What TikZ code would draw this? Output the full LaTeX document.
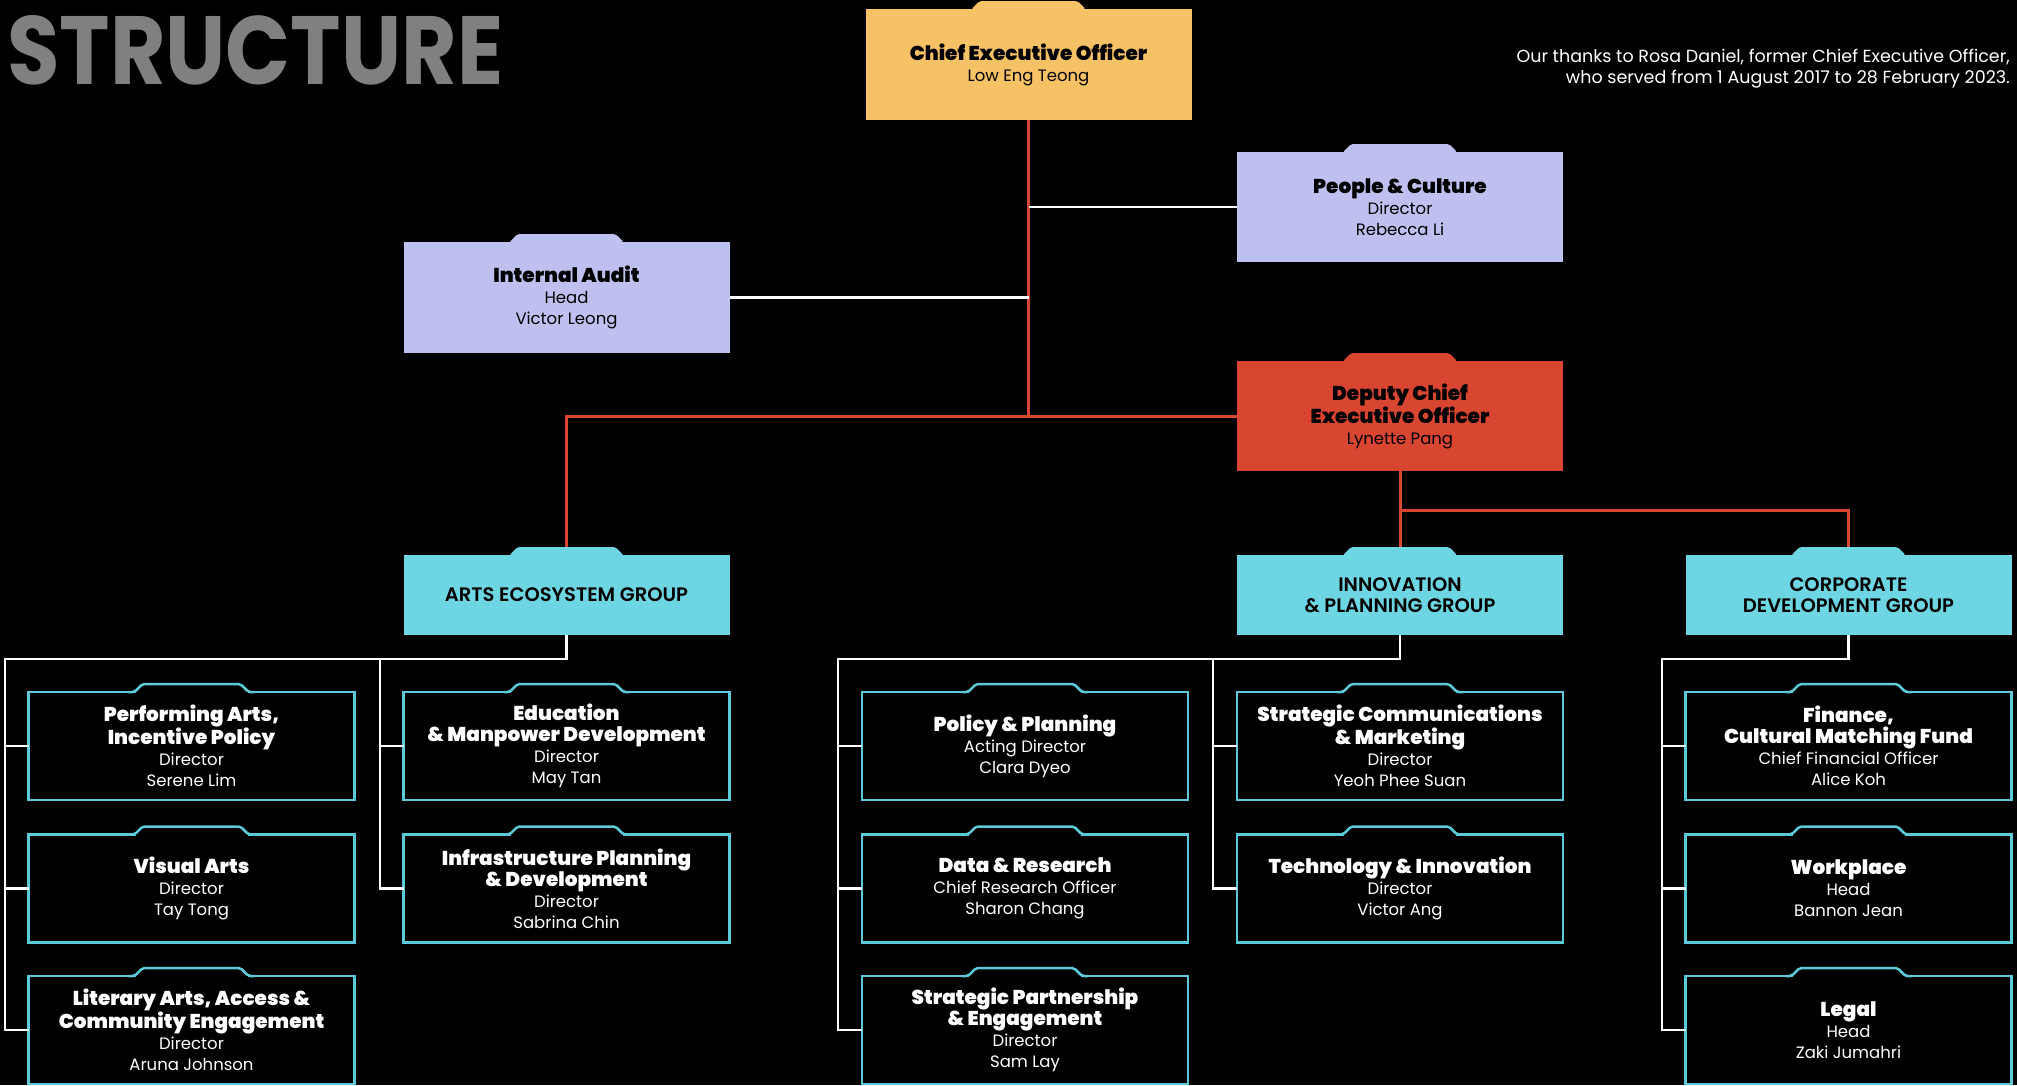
\documentclass[tikz,border=0pt]{standalone}
\usepackage{fontspec}
\setmainfont{Poppins}
\IfFontExistsTF{Poppins Black}{\newfontfamily\heavyfont{Poppins Black}}{\newcommand\heavyfont{\bfseries}}
\IfFontExistsTF{Poppins SemiBold}{\newfontfamily\semifont{Poppins SemiBold}}{\newcommand\semifont{\bfseries}}

\definecolor{ceoyellow}{HTML}{F7C165}
\definecolor{lavender}{HTML}{BEC1F0}
\definecolor{deputyred}{HTML}{D84530}
\definecolor{groupcyan}{HTML}{6DD6E2}
\definecolor{edgecyan}{HTML}{5CC9D9}
\definecolor{titlegray}{HTML}{808080}

\newcommand{\hv}{\heavyfont\fontsize{20}{21}\selectfont}
\newcommand{\rg}{\normalfont\fontsize{16.5}{21}\selectfont}

% folder tab on a filled box
\newcommand{\tabfill}[2]{%
  \fill[#1, rounded corners=2pt] ([xshift=106pt,yshift=-2pt]#2.north west) -- ([xshift=106pt]#2.north west)
    -- ([xshift=114pt,yshift=8pt]#2.north west) -- ([xshift=-114pt,yshift=8pt]#2.north east)
    -- ([xshift=-106pt]#2.north east) -- ([xshift=-106pt,yshift=-2pt]#2.north east) -- cycle;}
% folder tab on an outlined box
\newcommand{\tabline}[1]{%
  \fill[black] ([xshift=107pt,yshift=-1.3pt]#1.north west) rectangle ([xshift=-107pt,yshift=1.3pt]#1.north east);
  \draw[edgecyan, line width=2.5pt, rounded corners=2pt] ([xshift=100pt]#1.north west) -- ([xshift=106pt]#1.north west)
    -- ([xshift=114pt,yshift=8pt]#1.north west) -- ([xshift=-114pt,yshift=8pt]#1.north east)
    -- ([xshift=-106pt]#1.north east) -- ([xshift=-100pt]#1.north east);}

\tikzset{
  unit/.style={rectangle, minimum width=326pt, minimum height=110pt, inner sep=0pt, outer sep=0pt, align=center, font=\rg},
  filled/.style={unit, fill=#1, text=black},
  framed/.style={unit, minimum height=108pt, draw=edgecyan, line width=2.5pt, text=white},
  group/.style={unit, minimum height=80pt, fill=groupcyan, text=black, font=\semifont\fontsize{19.5}{21}\selectfont},
  redline/.style={draw=deputyred, line width=3pt},
  wire/.style={draw=white, line width=2.5pt},
}

\begin{document}
\begin{tikzpicture}[x=1pt, y=-1pt]
\useasboundingbox (0,0) rectangle (2017,1085);
\fill[black] (0,0) rectangle (2017,1085);

% Heading
\node[anchor=north west, inner sep=0pt, text=titlegray] (title) at (7,15)
  {\resizebox{496pt}{69pt}{\bfseries STRUCTURE}};
\node[anchor=north east, inner sep=0pt, align=right, text=white, font=\normalfont\fontsize{17.5}{21}\selectfont] (thanks) at (2010,49)
  {Our thanks to Rosa Daniel, former Chief Executive Officer,\\ who served from 1 August 2017 to 28 February 2023.};

% Top level
\node[filled=ceoyellow, minimum height=111pt] (ceo) at (1028.5,64.5) {\hv Chief Executive Officer\\ Low Eng Teong};
\node[filled=lavender] (pc) at (1400,207) {\hv People \& Culture\\ Director\\ Rebecca Li};
\node[filled=lavender, minimum height=111pt] (ia) at (566.5,297.5) {\hv Internal Audit\\ Head\\ Victor Leong};
\node[filled=deputyred] (dceo) at (1400,416) {\hv Deputy Chief\\ \hv Executive Officer\\ Lynette Pang};

% Groups
\node[group] (arts) at (566.5,595) {ARTS ECOSYSTEM GROUP};
\node[group] (innov) at (1400,595) {INNOVATION\\ \& PLANNING GROUP};
\node[group] (corp) at (1848.5,595) {CORPORATE\\ DEVELOPMENT GROUP};

% Divisions
\node[framed] (perf) at (191.5,746) {\hv Performing Arts,\\ \hv Incentive Policy\\ Director\\ Serene Lim};
\node[framed] (vis) at (191.5,888.5) {\hv Visual Arts\\ Director\\ Tay Tong};
\node[framed] (litr) at (191.5,1030) {\hv Literary Arts, Access \&\\ \hv Community Engagement\\ Director\\ Aruna Johnson};
\node[framed] (edu) at (566.5,746) {\hv Education\\ \hv \& Manpower Development\\ Director\\ May Tan};
\node[framed] (infra) at (566.5,888.5) {\hv Infrastructure Planning\\ \hv \& Development\\ Director\\ Sabrina Chin};
\node[framed] (pol) at (1025,746) {\hv Policy \& Planning\\ Acting Director\\ Clara Dyeo};
\node[framed] (data) at (1025,888.5) {\hv Data \& Research\\ Chief Research Officer\\ Sharon Chang};
\node[framed] (part) at (1025,1030) {\hv Strategic Partnership\\ \hv \& Engagement\\ Director\\ Sam Lay};
\node[framed] (comm) at (1400,746) {\hv Strategic Communications\\ \hv \& Marketing\\ Director\\ Yeoh Phee Suan};
\node[framed] (tech) at (1400,888.5) {\hv Technology \& Innovation\\ Director\\ Victor Ang};
\node[framed] (fin) at (1848.5,746) {\hv Finance,\\ \hv Cultural Matching Fund\\ Chief Financial Officer\\ Alice Koh};
\node[framed] (work) at (1848.5,888.5) {\hv Workplace\\ Head\\ Bannon Jean};
\node[framed] (legal) at (1848.5,1030) {\hv Legal\\ Head\\ Zaki Jumahri};

% Reporting lines
\draw[redline] (ceo.south) -- (ceo.south |- dceo.west);
\draw[redline] (dceo.west) -| (arts.north);
\draw[wire] (pc.west) -- (pc.west -| ceo.south);
\draw[wire] (ia.east) -- (ia.east -| ceo.south);
\draw[redline] (dceo.south) -- (innov.north);
\draw[redline] (dceo.south |- 0,510) -| (corp.north);

% Group buses
\coordinate (a1) at (5,659);
\coordinate (a2) at (380,659);
\coordinate (i1) at (838,659);
\coordinate (i2) at (1213,659);
\coordinate (c1) at (1662,659);
\draw[wire] (arts.south) |- (a1) |- (litr.west);
\draw[wire] (a2) |- (infra.west);
\draw[wire] (a1 |- perf.west) -- (perf.west);
\draw[wire] (a1 |- vis.west) -- (vis.west);
\draw[wire] (a2 |- edu.west) -- (edu.west);
\draw[wire] (innov.south) |- (i1) |- (part.west);
\draw[wire] (i2) |- (tech.west);
\draw[wire] (i1 |- pol.west) -- (pol.west);
\draw[wire] (i1 |- data.west) -- (data.west);
\draw[wire] (i2 |- comm.west) -- (comm.west);
\draw[wire] (corp.south) |- (c1) |- (legal.west);
\draw[wire] (c1 |- fin.west) -- (fin.west);
\draw[wire] (c1 |- work.west) -- (work.west);

% Tabs
\tabfill{ceoyellow}{ceo}
\tabfill{lavender}{pc}
\tabfill{lavender}{ia}
\tabfill{deputyred}{dceo}
\foreach \g in {arts,innov,corp} {\tabfill{groupcyan}{\g}}
\foreach \d in {perf,vis,litr,edu,infra,pol,data,part,comm,tech,fin,work,legal} {\tabline{\d}}
\end{tikzpicture}
\end{document}
